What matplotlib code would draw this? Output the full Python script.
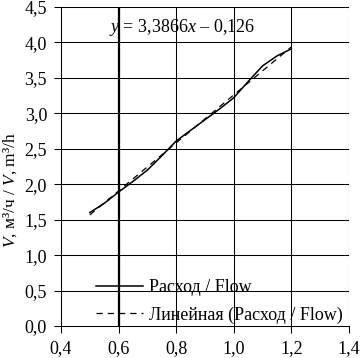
import numpy as np
import matplotlib.pyplot as plt
from matplotlib.ticker import FuncFormatter

plt.rcParams['font.family'] = ['Liberation Serif', 'DejaVu Serif']
plt.rcParams['mathtext.fontset'] = 'custom'
plt.rcParams['mathtext.rm'] = 'Liberation Serif'
plt.rcParams['mathtext.it'] = 'Liberation Serif:italic'

# measured flow curve
flow_x = [0.50, 0.55, 0.60, 0.65, 0.70, 0.75, 0.80, 0.85, 0.90, 0.95, 1.00, 1.05, 1.10, 1.15, 1.20]
flow_y = [1.60, 1.73, 1.89, 2.04, 2.20, 2.40, 2.61, 2.76, 2.91, 3.06, 3.22, 3.45, 3.67, 3.81, 3.91]

# linear trend from the chart
slope = 3.3866
intercept = -0.126
trend_x = [0.50, 1.20]

x_ticks = [0.4, 0.6, 0.8, 1.0, 1.2, 1.4]
y_ticks = [0.0, 0.5, 1.0, 1.5, 2.0, 2.5, 3.0, 3.5, 4.0, 4.5]

fig = plt.figure(figsize=(3.6, 3.58), dpi=100)
ax = fig.add_axes([61 / 360, 1 - 326 / 358, 288 / 360, 319 / 358])

for yt in y_ticks[1:]:
    ax.axhline(yt, color='black', lw=0.75, zorder=1)
for xt in x_ticks[1:]:
    ax.axvline(xt, color='black', lw=0.75, zorder=1)
ax.axvline(0.6, color='black', lw=1.6, zorder=1)

ax.plot(flow_x, flow_y, color='black', lw=1.1, label='Расход / Flow', zorder=3)
trend_y = [slope * v + intercept for v in trend_x]
ax.plot(trend_x, trend_y, color='black', lw=0.9, ls=(0, (5, 4)),
        label='Линейная (Расход / Flow)', zorder=2)

ax.set_xlim(0.4, 1.4)
ax.set_ylim(0, 4.5)
ax.set_xticks(x_ticks)
ax.set_yticks(y_ticks)
comma = FuncFormatter(lambda v, p: ('%.1f' % v).replace('.', ','))
ax.xaxis.set_major_formatter(comma)
ax.yaxis.set_major_formatter(comma)
ax.tick_params(direction='out', length=5, width=0.75, labelsize=13, colors='black', pad=5)
for side in ['top', 'right']:
    ax.spines[side].set_visible(False)
for side in ['left', 'bottom']:
    ax.spines[side].set_linewidth(0.75)

fig.text(10 / 360, 0.47, r'$\it{V}$, м³/ч / $\it{V}$, m³/h', fontsize=12.5,
         rotation=90, ha='center', va='center')

ax.text(0.565, 4.21, r'$\it{y}$ = 3,3866$\it{x}$ – 0,126', fontsize=13, va='center', ha='left')

ax.legend(loc='lower left', bbox_to_anchor=(0.095, -0.015), frameon=False, fontsize=13,
          handlelength=2.65, handletextpad=0.3, labelspacing=0.55, borderaxespad=0.0)

fig.savefig('out.png', dpi=100)
